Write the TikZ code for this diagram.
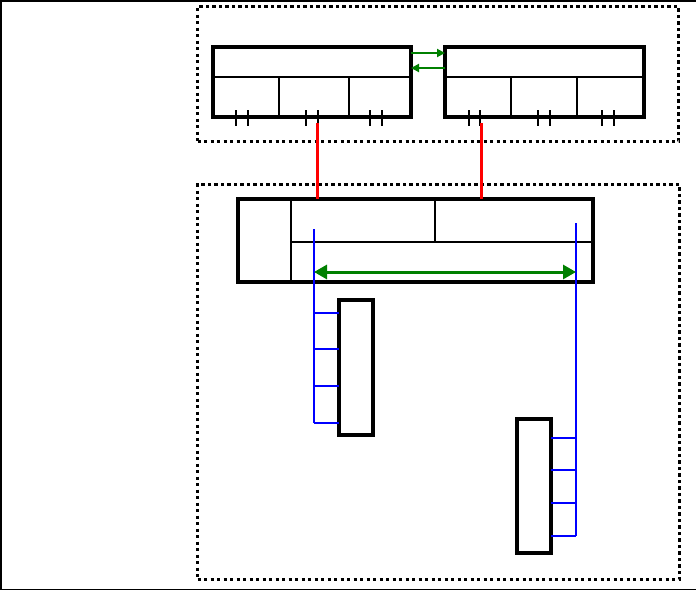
\documentclass[tikz,border=0pt]{standalone}
\usetikzlibrary{arrows.meta,calc}
\begin{document}
\begin{tikzpicture}[x=1pt,y=-1pt,
  box/.style={draw,line width=3.5pt,inner sep=0pt,outer sep=0pt,anchor=north west},
  dotbox/.style={draw,line width=3.2pt,dash pattern=on 3.2pt off 3.3pt,inner sep=0pt,anchor=north west},
  thinl/.style={line width=1.3pt},
  tickl/.style={line width=2.5pt},
  bluel/.style={draw=blue,line width=2.6pt},
  redl/.style={draw=red,line width=3pt},
  garr/.style={draw=green!50!black,line width=2.8pt,-{Triangle[length=8pt,width=8pt]}},
  gdbl/.style={draw=green!50!black,line width=3pt,{Triangle[length=13pt,width=14pt]}-{Triangle[length=13pt,width=14pt]}}]
\useasboundingbox (0,0) rectangle (696,589);
\node[draw,line width=1.2pt,inner sep=0pt,minimum width=695,minimum height=588,anchor=north west] (frame) at (0.5,0.5) {};
% dotted groups
\node[dotbox,minimum width=481,minimum height=135] (top) at (196,5) {};
\node[dotbox,minimum width=482,minimum height=395] (bot) at (196,183) {};
% boxes
\node[box,minimum width=198,minimum height=70] (A) at (213,47) {};
\node[box,minimum width=199,minimum height=70] (B) at (445,47) {};
\node[box,minimum width=355,minimum height=83] (C) at (238,199) {};
\node[box,minimum width=34,minimum height=135] (D) at (339,300) {};
\node[box,minimum width=34,minimum height=134] (E) at (517,419) {};
% A internals
\draw[thinl] ($(A.north west)+(0,30)$) -- ($(A.north east)+(0,30)$);
\draw[thinl] ($(A.north west)+(66,30)$) -- ($(A.south west)+(66,0)$);
\draw[thinl] ($(A.north west)+(136,30)$) -- ($(A.south west)+(136,0)$);
\foreach \o in {23,35,93,105,157,169}
  \draw[tickl] ($(A.south west)+(\o,-7)$) -- ($(A.south west)+(\o,9)$);
% B internals
\draw[thinl] ($(B.north west)+(0,30)$) -- ($(B.north east)+(0,30)$);
\draw[thinl] ($(B.north west)+(66,30)$) -- ($(B.south west)+(66,0)$);
\draw[thinl] ($(B.north west)+(132,30)$) -- ($(B.south west)+(132,0)$);
\draw[line width=1.5pt] ($(B.south west)+(24,-7)$) -- ($(B.south west)+(24,9)$);
\foreach \o in {35,93,105,157,169}
  \draw[tickl] ($(B.south west)+(\o,-7)$) -- ($(B.south west)+(\o,9)$);
% A <-> B arrows
\draw[garr] ($(A.north east)+(0,6)$) -- ($(B.north west)+(0,6)$);
\draw[garr] ($(B.north west)+(0,21)$) -- ($(A.north east)+(0,21)$);
% red links
\draw[redl] ($(A.south west)+(104,6)$) -- ($(C.north west)+(79,0)$);
\draw[redl] ($(B.south west)+(36,6)$) -- ($(C.north west)+(243,0)$);
% C internals
\draw[thinl] ($(C.north west)+(53,0)$) -- ($(C.south west)+(53,0)$);
\draw[thinl] ($(C.north west)+(53,43)$) -- ($(C.north east)+(0,43)$);
\draw[thinl] ($(C.north west)+(197,0)$) -- ($(C.north west)+(197,43)$);
% blue buses
\coordinate (bl1) at ($(C.north west)+(76,30)$);
\coordinate (bl2) at ($(D.north west)+(-25,123)$);
\coordinate (br1) at ($(C.north west)+(338,24)$);
\coordinate (br2) at ($(E.north east)+(25,117)$);
\draw[bluel] (bl1) -- (bl2);
\draw[bluel] (br1) -- (br2);
\foreach \o in {13,49,86,123}
  \draw[bluel] ($(D.north west)+(-25,\o)$) -- ($(D.north west)+(0,\o)$);
\foreach \o in {19,51,84,117}
  \draw[bluel] ($(E.north east)+(0,\o)$) -- ($(E.north east)+(25,\o)$);
% green double arrow
\coordinate (gl) at ($(C.north west)+(76,73)$);
\coordinate (gr) at ($(C.north west)+(338,73)$);
\draw[gdbl] (gl) -- (gr);
\end{tikzpicture}
\end{document}
